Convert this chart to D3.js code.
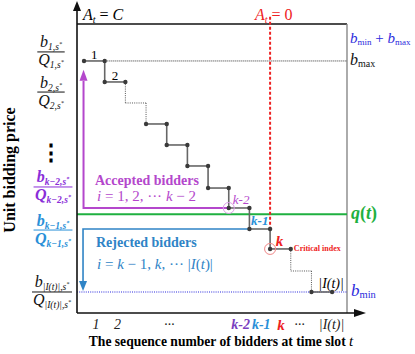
<!DOCTYPE html>
<html><head><meta charset="utf-8">
<script src="https://cdn.jsdelivr.net/npm/d3@7"></script>
<style>body{margin:0;background:#fff} svg{display:block} svg text{font-family:"Liberation Serif","DejaVu Serif",serif !important}</style>
</head><body><svg id="c" width="415" height="354" font-family="Liberation Serif, serif"></svg>
<script>
// ---- data ----
const bidderLabels = ["1","2","","","","","","k-2","k-1","k","","|I(t)|"];
const bidderPrices = [11,10,9,8,7,6,4.95,4,3,2.05,1,0];
const bidderElided = [false,false,true,false,false,false,false,false,false,false,true,false];
const tickLabels = ["1","2","\u00b7\u00b7\u00b7","k-2","k-1","k","\u00b7\u00b7\u00b7","|I(t)|"];
const tickIndex  = [0.55,1.6,4.1,7.55,8.55,9.5,10.4,11.95];
const bMax = 11, bMin = 0, qT = 3.7, bSum = 11.9;
const lastAccepted = 7, firstRejected = 8, criticalIndex = 9;
const yFracValues = [11.43, 9.52, 5.0, 2.95, 0];
const yFracSubs = ["1","2","k\u22122","k\u22121","|I(t)|"];

// ---- colors ----
const C = {axis:"#111", step:"#666", dot:"#3a3a3a", red:"#ee2222", green:"#1fb040",
  acc:"#b447cc", accDark:"#8a2ed8", rej:"#2f84c6", rejLight:"#2a90d8", blue:"#2b2bdd"};

const svg = d3.select("#c");
const x = d3.scaleLinear().domain([-0.34, 12.72]).range([77, 347]);
const y = d3.scaleLinear().domain([-1, 12.76]).range([313, 24]);
const L = x.range()[0], R = x.range()[1], T = y.range()[1], B = y.range()[0];

// frame
svg.append("line").attr("x1",L).attr("x2",R).attr("y1",T).attr("y2",T).attr("stroke","#111").attr("stroke-width",1.4);
svg.append("line").attr("x1",R).attr("x2",R).attr("y1",T).attr("y2",B).attr("stroke","#888").attr("stroke-width",1.4);

// reference lines
svg.append("line").attr("x1",x(1)).attr("x2",R).attr("y1",y(bMax)).attr("y2",y(bMax))
  .attr("stroke","#333").attr("stroke-width",1).attr("stroke-dasharray","1,1");
svg.append("line").attr("x1",L).attr("x2",R).attr("y1",y(bMin)).attr("y2",y(bMin))
  .attr("stroke",C.blue).attr("stroke-width",1.2).attr("stroke-dasharray","1,1.2");
svg.append("line").attr("x1",L).attr("x2",R).attr("y1",y(qT)).attr("y2",y(qT))
  .attr("stroke",C.green).attr("stroke-width",2);

// red dashed At=0 line
svg.append("line").attr("x1",x(criticalIndex)).attr("x2",x(criticalIndex))
  .attr("y1",y(13.1)).attr("y2",y(bidderPrices[firstRejected]))
  .attr("stroke",C.red).attr("stroke-width",2).attr("stroke-dasharray","3,2");

// purple accepted arrow
const ax0 = x(0) - 0.5;
svg.append("path").attr("d", d3.line()([[x(lastAccepted), y(bidderPrices[lastAccepted])],[ax0, y(bidderPrices[lastAccepted])],[ax0, y(bMax-0.95)]]))
  .attr("fill","none").attr("stroke",C.acc).attr("stroke-width",2);
svg.append("path").attr("d", `M${ax0},${y(bMax-0.42)} l-4,11 l8,0 z`).attr("fill",C.acc);

// blue rejected arrow
const bx0 = x(0) - 1;
svg.append("path").attr("d", d3.line()([[x(firstRejected), y(bidderPrices[firstRejected])],[bx0, y(bidderPrices[firstRejected])],[bx0, y(bMin+0.4)]]))
  .attr("fill","none").attr("stroke",C.rej).attr("stroke-width",1.6);
svg.append("path").attr("d", `M${bx0},${y(bMin+0.05)} l-4,-10 l8,0 z`).attr("fill",C.rej);

// staircase
const g = svg.append("g");
bidderPrices.forEach((p,i)=>{
  const el = bidderElided[i];
  g.append("line").attr("x1",x(i)).attr("x2",x(i+1)).attr("y1",y(p)).attr("y2",y(p))
    .attr("stroke", el?"#555":C.step).attr("stroke-width", el?1:1.6).attr("stroke-dasharray", el?"1,1.2":null);
  if (i < bidderPrices.length-1) {
    const ed = el || bidderElided[i+1];
    g.append("line").attr("x1",x(i+1)).attr("x2",x(i+1)).attr("y1",y(p)).attr("y2",y(bidderPrices[i+1]))
      .attr("stroke", ed?"#555":C.step).attr("stroke-width", ed?1:1.6).attr("stroke-dasharray", ed?"1,1.2":null);
  }
});
// circles
svg.append("circle").attr("cx",x(lastAccepted)).attr("cy",y(bidderPrices[lastAccepted])).attr("r",5.5)
  .attr("fill","none").attr("stroke","#dc9ee8").attr("stroke-width",1);
svg.append("circle").attr("cx",x(criticalIndex)).attr("cy",y(bidderPrices[criticalIndex])).attr("r",5.5)
  .attr("fill","none").attr("stroke","#f08888").attr("stroke-width",1);
bidderPrices.forEach((p,i)=>{
  if (bidderElided[i]) return;
  [i,i+1].forEach(j=>g.append("circle").attr("cx",x(j)).attr("cy",y(p)).attr("r",2.2).attr("fill",C.dot));
});

// step labels
const lab = svg.append("g").attr("font-size",13);
lab.append("text").attr("x",x(0.5)).attr("y",y(bidderPrices[0])-1.5).attr("text-anchor","middle").text(bidderLabels[0]);
lab.append("text").attr("x",x(1.5)).attr("y",y(bidderPrices[1])-1.5).attr("text-anchor","middle").text(bidderLabels[1]);
lab.append("text").attr("x",x(7.6)).attr("y",y(bidderPrices[7])-4).attr("text-anchor","middle")
  .attr("font-style","italic").attr("fill",C.acc).text(bidderLabels[7]);
lab.append("text").attr("x",x(8.5)).attr("y",y(bidderPrices[8])-4).attr("text-anchor","middle")
  .attr("font-style","italic").attr("font-weight","bold").attr("fill",C.rejLight).text(bidderLabels[8]);
lab.append("text").attr("x",x(9.45)).attr("y",y(bidderPrices[9])-3).attr("text-anchor","middle")
  .attr("font-style","italic").attr("font-weight","bold").attr("font-size",15).attr("fill",C.red).text(bidderLabels[9]);
lab.append("text").attr("x",x(10.15)).attr("y",y(bidderPrices[9])+2.5).attr("font-size",8).attr("font-weight","bold")
  .attr("fill",C.red).text("Critical index");
lab.append("text").attr("x",x(11.95)).attr("y",y(bidderPrices[11])-4).attr("text-anchor","middle")
  .attr("font-style","italic").attr("font-size",14).text(bidderLabels[11]);

// Accepted / Rejected texts
svg.append("text").attr("x",95).attr("y",185).attr("font-size",14).attr("font-weight","bold").attr("fill",C.acc).text("Accepted bidders");
const m1 = svg.append("text").attr("x",97).attr("y",201).attr("font-size",15).attr("fill",C.acc);
m1.append("tspan").attr("font-style","italic").text("i");
m1.append("tspan").text(" = 1, 2, \u00b7\u00b7\u00b7 ");
m1.append("tspan").attr("font-style","italic").text("k");
m1.append("tspan").text(" \u2212 2");
svg.append("text").attr("x",96).attr("y",247).attr("font-size",14).attr("font-weight","bold").attr("fill",C.rej).text("Rejected bidders");
const m2 = svg.append("text").attr("x",97).attr("y",269).attr("font-size",15).attr("fill",C.rej);
m2.append("tspan").attr("font-style","italic").text("i");
m2.append("tspan").text(" = ");
m2.append("tspan").attr("font-style","italic").text("k");
m2.append("tspan").text(" \u2212 1, ");
m2.append("tspan").attr("font-style","italic").text("k");
m2.append("tspan").text(", \u00b7\u00b7\u00b7 |");
m2.append("tspan").attr("font-style","italic").text("I");
m2.append("tspan").text("(");
m2.append("tspan").attr("font-style","italic").text("t");
m2.append("tspan").text(")|");

// axes
svg.append("line").attr("x1",L).attr("x2",L).attr("y1",B).attr("y2",9).attr("stroke",C.axis).attr("stroke-width",1.6);
svg.append("path").attr("d",`M${L},1 l-4,10 l8,0 z`).attr("fill",C.axis);
svg.append("line").attr("x1",L).attr("x2",357).attr("y1",B).attr("y2",B).attr("stroke",C.axis).attr("stroke-width",1.6);
svg.append("path").attr("d",`M366,${B} l-12,-4 l0,8 z`).attr("fill",C.axis);

const xAxis = d3.axisBottom(x).tickValues(tickIndex).tickSize(0).tickPadding(3)
  .tickFormat((d,i)=>tickLabels[i]);
const xg = svg.append("g").attr("transform",`translate(0,${B})`).call(xAxis);
xg.attr("font-family",null);
xg.select(".domain").remove();
const tickColor = ["#222","#222","#222","#7a3fc0",C.rejLight,C.red,"#222","#222"];
xg.selectAll(".tick text")
  .attr("font-style","italic").attr("dy","0.9em")
  .attr("fill",(d,i)=>tickColor[i])
  .attr("font-weight",(d,i)=>(i>=3&&i<=5)?"bold":"normal")
  .attr("font-size",(d,i)=>i==5?15:14);

// axis titles
svg.append("text").attr("x",221).attr("y",346).attr("text-anchor","middle").attr("font-size",13.6).attr("font-weight","bold")
  .html('The sequence number of bidders at time slot <tspan font-style="italic" font-weight="normal" font-size="15">t</tspan>');
svg.append("text").attr("transform","translate(15,170) rotate(-90)").attr("text-anchor","middle")
  .attr("font-size",16).attr("font-weight","bold").text("Unit bidding price");

// left fraction labels
function frac(v, sub, color, bold, cx) {
  const yl = y(v);
  const gg = svg.append("g").attr("fill",color);
  const mk = (letter, base) => {
    const t = gg.append("text").attr("x",cx).attr("y",base).attr("text-anchor","middle")
      .attr("font-style","italic").attr("font-weight",bold?"bold":"normal").attr("font-size",16);
    t.append("tspan").text(letter);
    t.append("tspan").attr("font-size",9.5).attr("dy",3).text(sub+",s");
    t.append("tspan").attr("font-size",6).attr("dy",-4).text("*");
    return t;
  };
  const n = mk("b", yl-4.5), d = mk("Q", yl+13.5);
  const w = Math.max(n.node().getBBox().width, d.node().getBBox().width) + 2;
  gg.append("line").attr("x1",cx-w/2).attr("x2",cx+w/2).attr("y1",yl).attr("y2",yl)
    .attr("stroke",color).attr("stroke-width",1);
}
const fracColor = ["#111","#111",C.accDark,C.rejLight,"#111"];
const fracX = [51,51,53,53,52];
yFracValues.forEach((v,i)=>frac(v, yFracSubs[i], fracColor[i], i==2||i==3, fracX[i]));
svg.append("text").attr("x",51).attr("y",y(6.52)).attr("text-anchor","middle").attr("font-size",22)
  .attr("font-weight","bold").attr("dominant-baseline","middle").text("\u22ee");

// top / right labels
const t1 = svg.append("text").attr("x",83).attr("y",20).attr("font-size",16);
t1.append("tspan").attr("font-style","italic").text("A");
t1.append("tspan").attr("font-style","italic").attr("font-size",10).attr("dy",3).text("t");
t1.append("tspan").attr("dy",-3).text(" = ");
t1.append("tspan").attr("font-style","italic").text("C");
const t2 = svg.append("text").attr("x",255).attr("y",20).attr("font-size",16).attr("fill",C.red);
t2.append("tspan").attr("font-style","italic").text("A");
t2.append("tspan").attr("font-style","italic").attr("font-size",10).attr("dy",3).text("t");
t2.append("tspan").attr("dy",-3).text(" = 0");

const r1 = svg.append("text").attr("x",350).attr("y",y(bSum)+1).attr("font-size",15).attr("fill",C.blue);
r1.append("tspan").attr("font-style","italic").text("b");
r1.append("tspan").attr("font-size",9).attr("dy",2).text("min");
r1.append("tspan").attr("dy",-2).text(" + ");
r1.append("tspan").attr("font-style","italic").text("b");
r1.append("tspan").attr("font-size",9).attr("dy",2).text("max");
const r2 = svg.append("text").attr("x",350).attr("y",y(bMax)+4).attr("font-size",16).attr("fill","#111");
r2.append("tspan").attr("font-style","italic").text("b");
r2.append("tspan").attr("font-size",10).attr("dy",2).text("max");
const r3 = svg.append("text").attr("x",351).attr("y",y(qT)+5).attr("font-size",18).attr("font-weight","bold").attr("fill",C.green);
r3.append("tspan").attr("font-style","italic").text("q");
r3.append("tspan").text("(");
r3.append("tspan").attr("font-style","italic").text("t");
r3.append("tspan").text(")");
const r4 = svg.append("text").attr("x",351).attr("y",y(bMin)+4).attr("font-size",17).attr("fill",C.blue);
r4.append("tspan").attr("font-style","italic").text("b");
r4.append("tspan").attr("font-size",10.5).attr("dy",2).text("min");
</script></body></html>
